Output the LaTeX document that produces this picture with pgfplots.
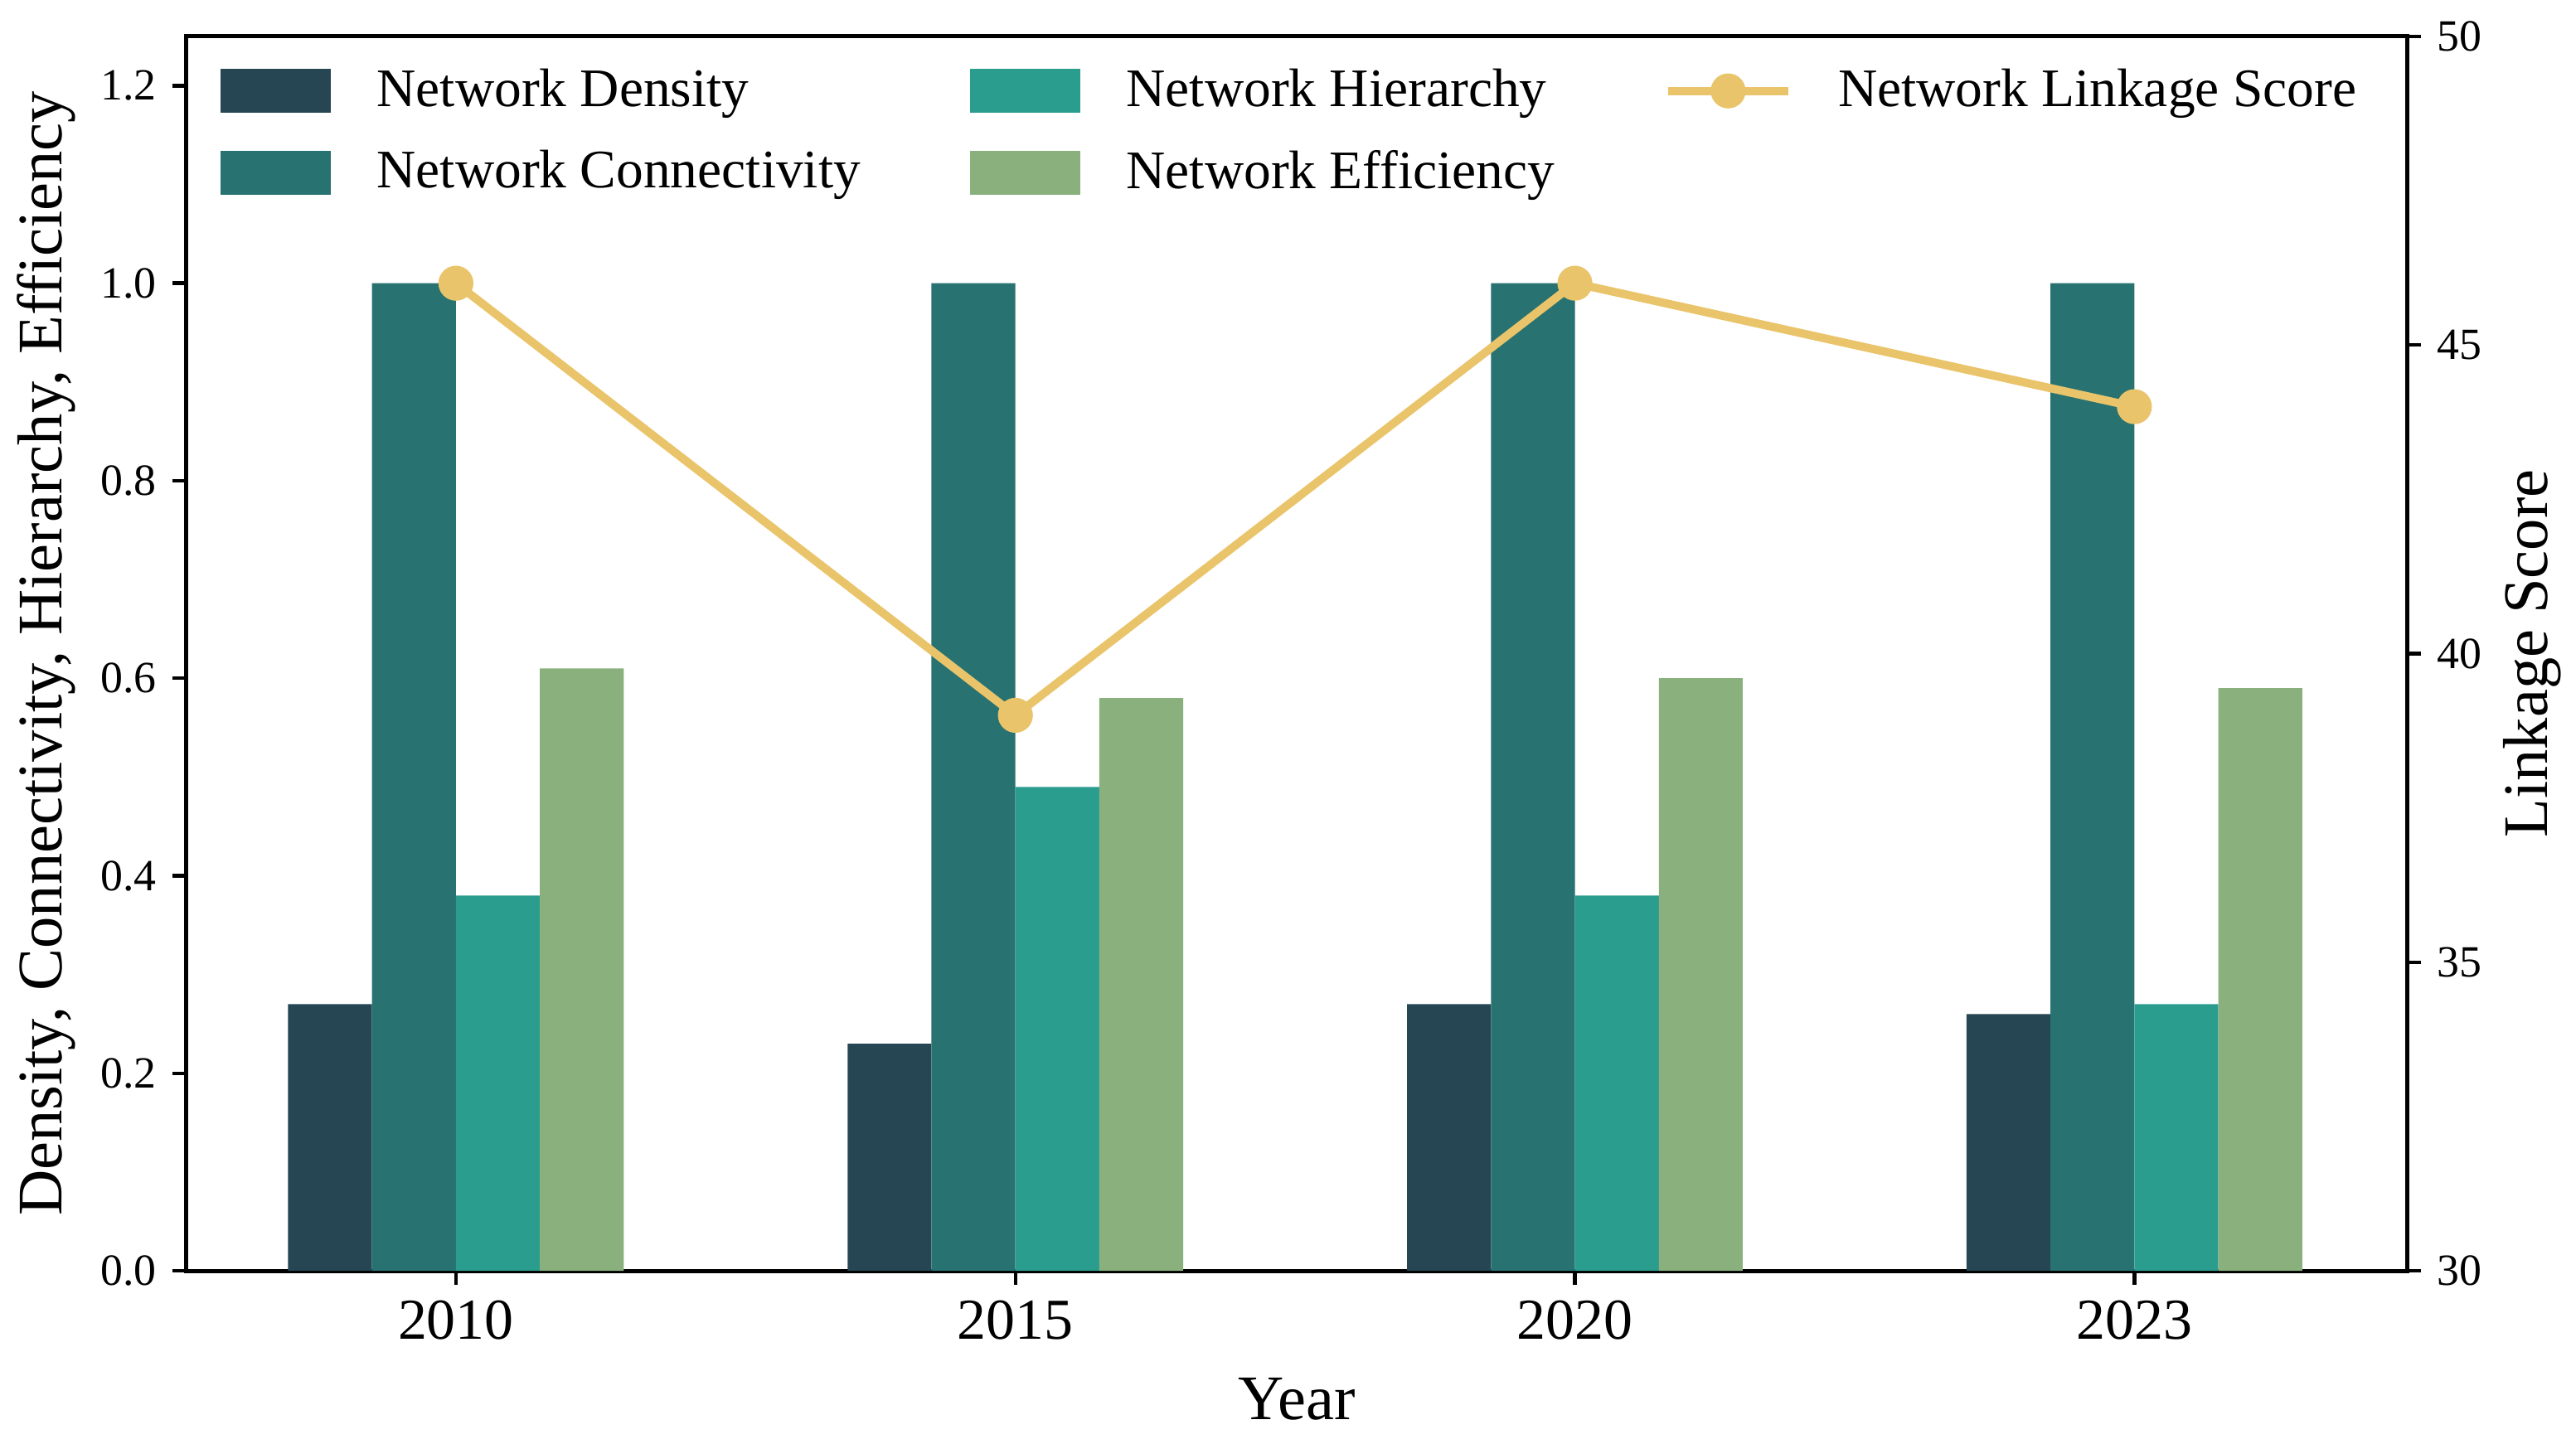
\documentclass[border=0pt]{standalone}
\usepackage{fontspec}
\setmainfont{Liberation Serif}
\usepackage{pgfplots}
\pgfplotsset{compat=1.18}

\definecolor{cDen}{HTML}{264653}
\definecolor{cCon}{HTML}{287271}
\definecolor{cHie}{HTML}{2A9D8F}
\definecolor{cEff}{HTML}{8AB17D}
\definecolor{cLnk}{HTML}{E9C46A}

\pgfplotsset{
  barleg/.style={legend image code/.code={\fill[##1, draw=none] (0pt,-4.8pt) rectangle (24pt,4.8pt);}},
  lineleg/.style={legend image code/.code={\draw[mark repeat=2,mark phase=2,##1] plot coordinates {(0pt,0pt) (13pt,0pt) (26pt,0pt)};}},
  common/.style={
    scale only axis, width=483pt, height=268.5pt,
    xmin=-0.482, xmax=3.488,
    tick align=outside, major tick length=3pt,
    tick style={black, line width=0.8pt},
    axis line style={black, line width=0.9pt},
  },
}

\begin{document}
\begin{tikzpicture}
\begin{axis}[
  common, name=ax,
  ymin=0, ymax=1.25,
  ytick={0,0.2,0.4,0.6,0.8,1.0,1.2},
  xtick={0,1,2,3}, xticklabels={2010,2015,2020,2023},
  xtick pos=bottom, ytick pos=left,
  ybar, bar width=0.15,
  yticklabel style={font=\fontsize{9.7}{11}\selectfont, /pgf/number format/.cd, fixed, fixed zerofill, precision=1, assume math mode=true},
  xticklabel style={font=\fontsize{12.6}{14}\selectfont, /pgf/number format/assume math mode=true},
  xlabel={Year},
  xlabel style={font=\fontsize{13.8}{16}\selectfont, at={(axis description cs:0.5,-0.104)}, anchor=center},
  ylabel={Density, Connectivity, Hierarchy, Efficiency},
  ylabel style={font=\fontsize{13.8}{16}\selectfont, at={(axis description cs:-0.063,0.5)}, anchor=center},
]
\addplot[fill=cDen, draw=none, bar shift=-0.225] coordinates {(0,0.27) (1,0.23) (2,0.27) (3,0.26)};
\addplot[fill=cCon, draw=none, bar shift=-0.075] coordinates {(0,1.00) (1,1.00) (2,1.00) (3,1.00)};
\addplot[fill=cHie, draw=none, bar shift=0.075] coordinates {(0,0.38) (1,0.49) (2,0.38) (3,0.27)};
\addplot[fill=cEff, draw=none, bar shift=0.225] coordinates {(0,0.61) (1,0.58) (2,0.60) (3,0.59)};
\end{axis}

\begin{axis}[
  common,
  ymin=30, ymax=50,
  ytick={30,35,40,45,50},
  axis y line*=right, axis x line=none,
  yticklabel style={font=\fontsize{9.7}{11}\selectfont, /pgf/number format/assume math mode=true},
  ylabel={Linkage Score},
  ylabel style={font=\fontsize{13.8}{16}\selectfont, at={(axis description cs:1.056,0.5)}, anchor=center, rotate=0},
  legend columns=3,
  legend cell align=left,
  legend style={draw=none, fill=none, inner sep=0pt, font=\fontsize{11.8}{13}\selectfont,
    at={(0.0150,0.982)}, anchor=north west, row sep=4pt,
    /tikz/every odd column/.append style={column sep=8pt},
    /tikz/every even column/.append style={column sep=21.8pt}},
]
\addlegendimage{barleg, fill=cDen}
\addlegendentry{Network Density}
\addlegendimage{barleg, fill=cHie}
\addlegendentry{Network Hierarchy}
\addplot[lineleg, color=cLnk, line width=1.8pt, mark=*, mark size=2.9pt, mark options={fill=cLnk, draw=cLnk}]
  coordinates {(0,46) (1,39) (2,46) (3,44)};
\addlegendentry{Network Linkage Score}
\addlegendimage{barleg, fill=cCon}
\addlegendentry{Network Connectivity}
\addlegendimage{barleg, fill=cEff}
\addlegendentry{Network Efficiency}
\end{axis}
\path ([xshift=-40.5pt,yshift=-37.6pt]ax.south west) rectangle ([xshift=36.5pt,yshift=7.9pt]ax.north east);
\end{tikzpicture}
\end{document}
